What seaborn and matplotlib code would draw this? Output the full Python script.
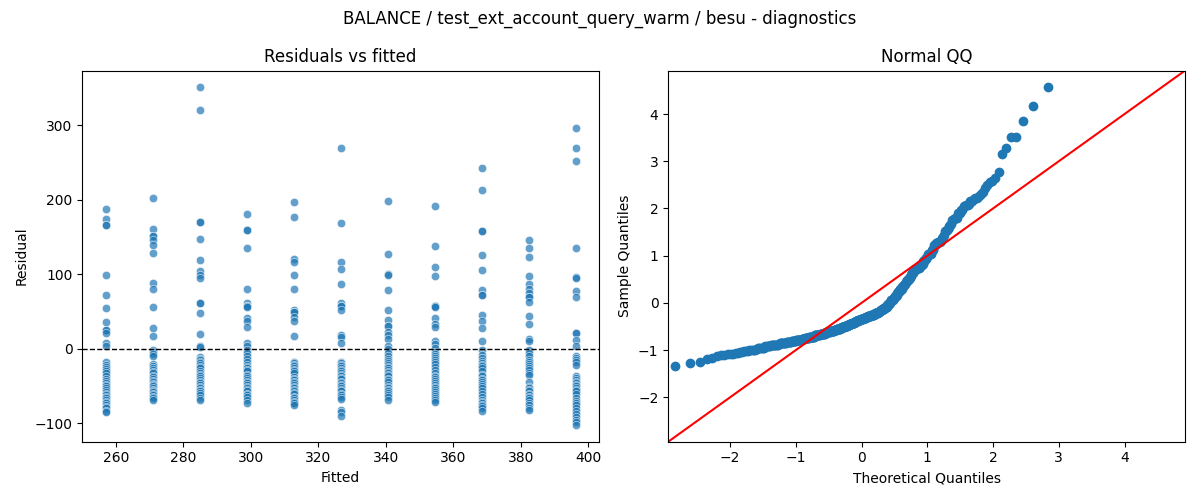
import seaborn as sns
import matplotlib.pyplot as plt
import numpy as np
import pandas as pd
from statistics import NormalDist

title = "BALANCE / test_ext_account_query_warm / besu - diagnostics"

# fitted value of each group (x position of the residual columns)
fitted = [257.0, 270.9, 284.9, 298.8, 312.7, 326.6, 340.6, 354.5, 368.4, 382.3, 396.2]

# residuals, one list per fitted value
g01 = [188, 174, 166, 166, 99, 73, 55, 36, 26, 26, 22, 8, 4,
       -18, -22, -24, -27, -30, -33, -36, -40, -43, -46, -48, -50,
       -53, -55, -58, -60, -62, -64, -66, -68, -71, -73, -76, -78, -80, -83, -85]
g02 = [203, 161, 152, 152, 146, 139, 129, 88, 80, 56, 28, 17, -1, -4, -7, -10,
       -20, -23, -26, -28, -31, -33, -36, -38, -41, -43, -44, -47, -48,
       -50, -52, -55, -57, -58, -60, -62, -64, -66, -68]
g03 = [351, 321, 171, 171, 147, 119, 104, 99, 95, 61, 61, 48, 20, 4, 3,
       -11, -13, -15, -17, -19, -21, -24, -26, -30, -32, -35, -37, -39,
       -42, -44, -46, -48, -51, -53, -55, -57, -59, -62, -66, -69]
g04 = [181, 159, 159, 136, 80, 61, 58, 57, 56, 41, 38, 30, 8, 4,
       -1, -6, -10, -13, -17, -21, -24, -26, -28, -30, -35, -37, -39,
       -42, -44, -46, -48, -51, -53, -55, -57, -60, -62, -65, -68, -73]
g05 = [197, 177, 121, 117, 99, 80, 52, 49, 49, 43, 37, 17,
       -17, -19, -21, -23, -26, -28, -30, -33, -38, -40, -42, -44, -46,
       -48, -51, -53, -55, -57, -59, -61, -64, -66, -68, -71, -73, -76]
g06 = [270, 169, 117, 107, 87, 61, 57, 57, 52, 19, 16, 8,
       -17, -19, -21, -23, -26, -28, -30, -32, -35, -37, -39, -41, -44,
       -46, -48, -50, -53, -55, -57, -60, -62, -65, -67, -82, -85, -90]
g07 = [198, 127, 101, 99, 79, 52, 39, 31, 31, 23, 19, 13, 4,
       0, -6, -9, -13, -16, -19, -22, -24, -26, -28, -31, -33, -35, -37, -40,
       -42, -45, -49, -51, -53, -55, -57, -59, -62, -64, -68]
g08 = [192, 138, 110, 98, 57, 57, 56, 41, 34, 30, 11, 7, 1,
       -4, -7, -10, -12, -15, -17, -20, -24, -28, -33, -36, -38, -41, -43,
       -46, -48, -51, -53, -55, -58, -61, -63, -66, -68, -71]
g09 = [243, 213, 158, 158, 126, 106, 79, 72, 72, 46, 37, 28, 10,
       -1, -8, -12, -16, -19, -21, -23, -25, -30, -35, -37, -40, -42, -45,
       -47, -50, -53, -56, -60, -64, -68, -71, -73, -75, -77, -79, -83]
g10 = [146, 135, 124, 98, 87, 81, 75, 69, 69, 63, 44, 34, 13, 11,
       -1, -6, -10, -15, -18, -20, -23, -26, -29, -32, -35, -45, -51,
       -53, -55, -57, -60, -62, -64, -66, -69, -73, -76, -79, -82]
g11 = [297, 270, 252, 135, 96, 95, 78, 69, 22, 22, 12, 4,
       -9, -12, -15, -18, -21, -36, -39, -42, -44, -46, -48, -50, -53, -55,
       -57, -60, -66, -70, -73, -76, -80, -83, -87, -92, -96, -98, -102]

groups = [g01, g02, g03, g04, g05, g06, g07, g08, g09, g10, g11]
df = pd.DataFrame({
    'fitted': np.repeat(fitted, [len(g) for g in groups]),
    'resid': np.concatenate(groups).astype(float),
})

fig, axes = plt.subplots(1, 2, figsize=(12, 5))

ax = axes[0]
sns.scatterplot(data=df, x='fitted', y='resid', alpha=0.7, ax=ax)
ax.axhline(0, color='black', linestyle='--', linewidth=1)
ax.set_title("Residuals vs fitted")
ax.set_xlabel("Fitted")
ax.set_ylabel("Residual")

# normal QQ of the standardized residuals
r = df['resid'].values
z = np.sort((r - r.mean()) / r.std())
n = len(z)
theo = np.array([NormalDist().inv_cdf(i / (n + 1)) for i in range(1, n + 1)])

ax = axes[1]
ax.plot(theo, z, 'o', color='C0', markersize=6)
lo, hi = -2.94, 4.92
ax.plot([lo, hi], [lo, hi], color='red')
ax.set_xlim(lo, hi)
ax.set_ylim(lo, hi)
ax.set_title("Normal QQ")
ax.set_xlabel("Theoretical Quantiles")
ax.set_ylabel("Sample Quantiles")

fig.suptitle(title)
plt.tight_layout()
plt.savefig("out.png", dpi=100)
